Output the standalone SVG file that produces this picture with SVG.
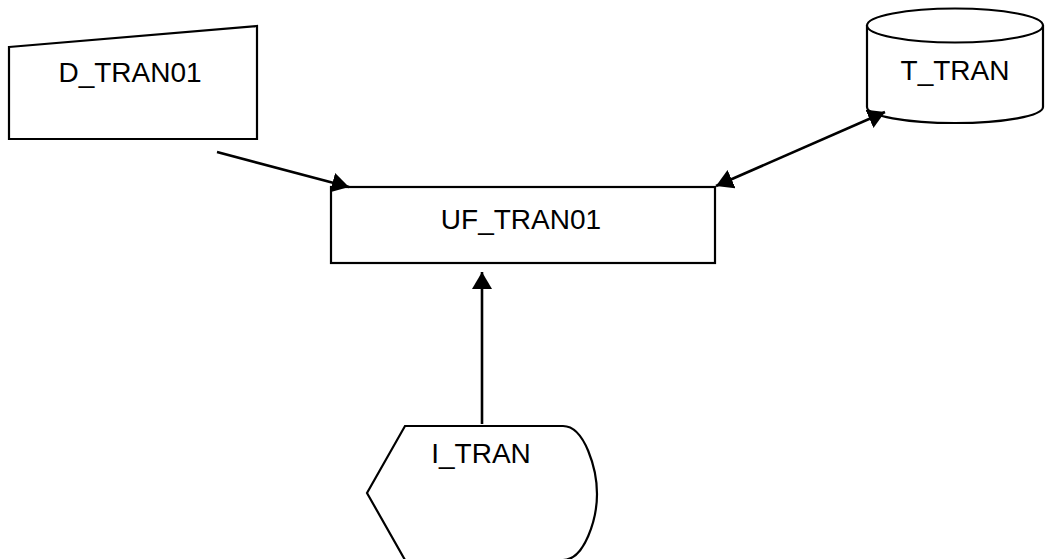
<svg xmlns="http://www.w3.org/2000/svg" width="1048" height="559" viewBox="0 0 1048 559">
<style>
.shape{fill:#fff;stroke:#000;stroke-width:2.2}
.lbl{font-family:"Liberation Sans",Arial,sans-serif;font-size:28px;fill:#000;text-anchor:middle}
.conn{stroke:#000;stroke-width:2.6;fill:none}
</style>
<defs>
<marker id="ah" markerUnits="userSpaceOnUse" markerWidth="20" markerHeight="22" refX="17" refY="10" orient="auto-start-reverse">
<path d="M0,0 L17,10 L0,20 z" fill="#000"/>
</marker>
</defs>
<rect width="1048" height="559" fill="#fff"/>
<g id="D_TRAN01">
<path class="shape" d="M9,47 L257,26 L257,139 L9,139 Z"/>
<text class="lbl" x="130" y="82">D_TRAN01</text>
</g>
<g id="T_TRAN">
<path class="shape" d="M867,25 L867,107 A88,16 0 0 0 1043,107 L1043,25"/>
<ellipse class="shape" cx="955" cy="25.5" rx="88" ry="17"/>
<text class="lbl" x="955" y="80">T_TRAN</text>
</g>
<g id="UF_TRAN01">
<rect class="shape" x="331" y="187" width="384" height="76"/>
<text class="lbl" x="521" y="229">UF_TRAN01</text>
</g>
<g id="I_TRAN">
<path class="shape" d="M405,426 L563,426 C585,426 597,470 597,494 C597,518 585,560 563,560 L405,560 L367,493 Z"/>
<text class="lbl" x="481" y="463">I_TRAN</text>
</g>
<g id="connectors">
<line class="conn" x1="217" y1="152" x2="349" y2="187" marker-end="url(#ah)"/>
<line class="conn" x1="716" y1="186" x2="885" y2="112" marker-start="url(#ah)" marker-end="url(#ah)"/>
<line class="conn" x1="482" y1="424" x2="482" y2="272" marker-end="url(#ah)"/>
</g>
</svg>
